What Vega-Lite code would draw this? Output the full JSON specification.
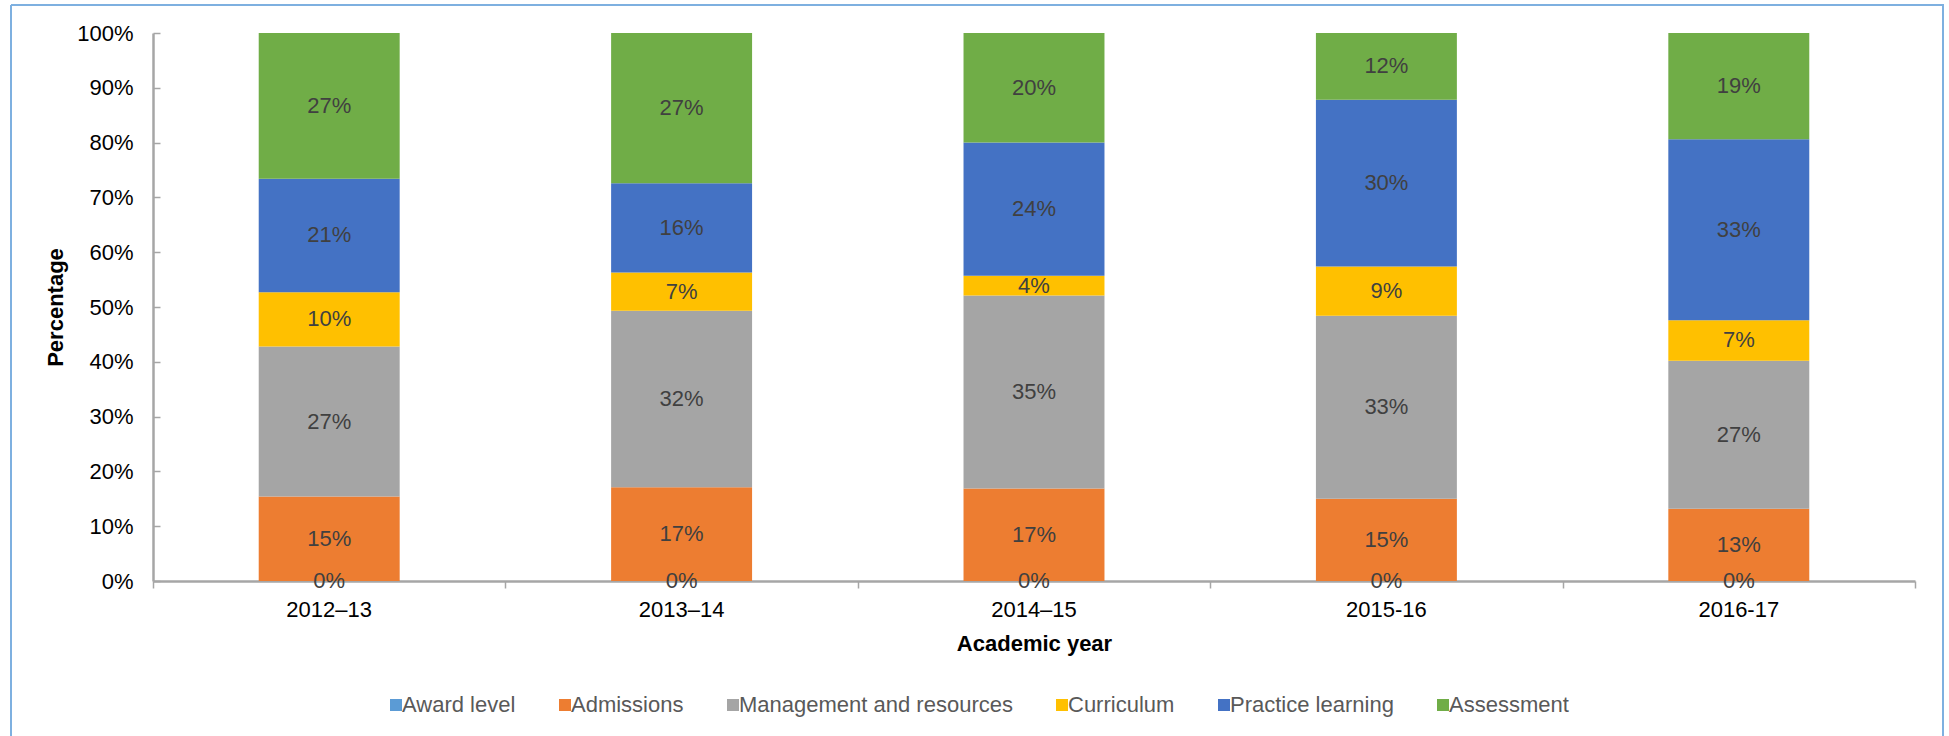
{
  "$schema": "https://vega.github.io/schema/vega-lite/v6.json",
  "width": 1932,
  "height": 731,
  "autosize": {"type": "none"},
  "padding": {"left": 11, "top": 5, "right": 6, "bottom": 0},
  "config": {
    "font": "Liberation Sans",
    "view": {"stroke": "#7eb0e0", "strokeWidth": 2, "strokeDash": [2663, 1932, 731, 0]}
  },
  "datasets": {
    "shares": [
      {"year": "2012–13", "category": "Award level", "idx": 0, "value": 0},
      {"year": "2012–13", "category": "Admissions", "idx": 1, "value": 0.154},
      {"year": "2012–13", "category": "Management and resources", "idx": 2, "value": 0.274},
      {"year": "2012–13", "category": "Curriculum", "idx": 3, "value": 0.099},
      {"year": "2012–13", "category": "Practice learning", "idx": 4, "value": 0.207},
      {"year": "2012–13", "category": "Assessment", "idx": 5, "value": 0.266},
      {"year": "2013–14", "category": "Award level", "idx": 0, "value": 0},
      {"year": "2013–14", "category": "Admissions", "idx": 1, "value": 0.171},
      {"year": "2013–14", "category": "Management and resources", "idx": 2, "value": 0.322},
      {"year": "2013–14", "category": "Curriculum", "idx": 3, "value": 0.070},
      {"year": "2013–14", "category": "Practice learning", "idx": 4, "value": 0.163},
      {"year": "2013–14", "category": "Assessment", "idx": 5, "value": 0.274},
      {"year": "2014–15", "category": "Award level", "idx": 0, "value": 0},
      {"year": "2014–15", "category": "Admissions", "idx": 1, "value": 0.169},
      {"year": "2014–15", "category": "Management and resources", "idx": 2, "value": 0.352},
      {"year": "2014–15", "category": "Curriculum", "idx": 3, "value": 0.036},
      {"year": "2014–15", "category": "Practice learning", "idx": 4, "value": 0.243},
      {"year": "2014–15", "category": "Assessment", "idx": 5, "value": 0.200},
      {"year": "2015-16", "category": "Award level", "idx": 0, "value": 0},
      {"year": "2015-16", "category": "Admissions", "idx": 1, "value": 0.150},
      {"year": "2015-16", "category": "Management and resources", "idx": 2, "value": 0.334},
      {"year": "2015-16", "category": "Curriculum", "idx": 3, "value": 0.090},
      {"year": "2015-16", "category": "Practice learning", "idx": 4, "value": 0.304},
      {"year": "2015-16", "category": "Assessment", "idx": 5, "value": 0.122},
      {"year": "2016-17", "category": "Award level", "idx": 0, "value": 0},
      {"year": "2016-17", "category": "Admissions", "idx": 1, "value": 0.132},
      {"year": "2016-17", "category": "Management and resources", "idx": 2, "value": 0.270},
      {"year": "2016-17", "category": "Curriculum", "idx": 3, "value": 0.074},
      {"year": "2016-17", "category": "Practice learning", "idx": 4, "value": 0.330},
      {"year": "2016-17", "category": "Assessment", "idx": 5, "value": 0.194}
    ],
    "bounds": [
      {"t": 0}, {"t": 1}, {"t": 2}, {"t": 3}, {"t": 4}, {"t": 5}
    ]
  },
  "layer": [
    {
      "data": {"name": "shares"},
      "encoding": {
        "x": {
          "field": "year",
          "type": "nominal",
          "sort": ["2012–13", "2013–14", "2014–15", "2015-16", "2016-17"],
          "scale": {"range": [142, 1904], "paddingInner": 0.6, "paddingOuter": 0.3},
          "axis": {
            "orient": "bottom",
            "offset": -155,
            "labelAngle": 0,
            "labelFontSize": 22,
            "labelColor": "#000000",
            "labelPadding": 18,
            "ticks": false,
            "domain": true,
            "domainColor": "#a6a6a6",
            "domainWidth": 2.5,
            "grid": false,
            "title": "Academic year",
            "titleFontSize": 22,
            "titleFontWeight": "bold",
            "titleColor": "#000000",
            "titleX": 1023,
            "titleY": 62,
            "titleBaseline": "middle",
            "titleAlign": "center"
          }
        },
        "y": {
          "field": "value",
          "type": "quantitative",
          "stack": "zero",
          "scale": {"domain": [0, 1], "range": [576, 28], "nice": false},
          "axis": {
            "orient": "left",
            "offset": -142,
            "values": [0, 0.1, 0.2, 0.3, 0.4, 0.5, 0.6, 0.7, 0.8, 0.9, 1],
            "format": ".0%",
            "labelFontSize": 22,
            "labelColor": "#000000",
            "labelPadding": 27,
            "tickSize": -7,
            "tickColor": "#a6a6a6",
            "tickWidth": 1.5,
            "domainColor": "#a6a6a6",
            "domainWidth": 2.5,
            "grid": false,
            "title": "Percentage",
            "titleFontSize": 22,
            "titleFontWeight": "bold",
            "titleColor": "#000000",
            "titleAngle": -90,
            "titleX": -98,
            "titleY": 302,
            "titleBaseline": "middle",
            "titleAlign": "center"
          }
        },
        "order": {"field": "idx", "type": "quantitative", "sort": "ascending"}
      },
      "layer": [
        {
          "mark": {"type": "bar"},
          "encoding": {
            "color": {
              "field": "category",
              "type": "nominal",
              "scale": {
                "domain": ["Award level", "Admissions", "Management and resources", "Curriculum", "Practice learning", "Assessment"],
                "range": ["#5b9bd5", "#ed7d31", "#a5a5a5", "#ffc000", "#4472c4", "#70ad47"]
              },
              "legend": {
                "orient": "none",
                "legendX": 374,
                "legendY": 689,
                "direction": "horizontal",
                "title": null,
                "symbolType": "square",
                "symbolSize": 144,
                "symbolStrokeWidth": 0,
                "labelFontSize": 22,
                "labelColor": "#595959",
                "labelLimit": 500,
                "labelOffset": -5,
                "columnPadding": 38,
                "padding": 0
              }
            }
          }
        },
        {
          "mark": {"type": "text", "fontSize": 22, "color": "#404040", "baseline": "middle", "align": "center"},
          "encoding": {
            "y": {"field": "value", "type": "quantitative", "stack": "zero", "bandPosition": 0.5},
            "detail": {"field": "category"},
            "text": {"field": "value", "type": "quantitative", "format": ".0%"}
          }
        }
      ]
    },
    {
      "data": {"name": "bounds"},
      "mark": {"type": "point", "opacity": 0},
      "encoding": {
        "x": {
          "field": "t",
          "type": "quantitative",
          "scale": {"domain": [0, 5], "range": [142, 1904], "nice": false, "zero": false},
          "axis": {
            "orient": "bottom",
            "offset": -155,
            "values": [0, 1, 2, 3, 4, 5],
            "labels": false,
            "domain": false,
            "ticks": true,
            "tickSize": 7,
            "tickColor": "#a6a6a6",
            "tickWidth": 1.5,
            "grid": false,
            "title": null
          }
        }
      }
    }
  ],
  "resolve": {"scale": {"x": "independent"}, "axis": {"x": "independent"}}
}
